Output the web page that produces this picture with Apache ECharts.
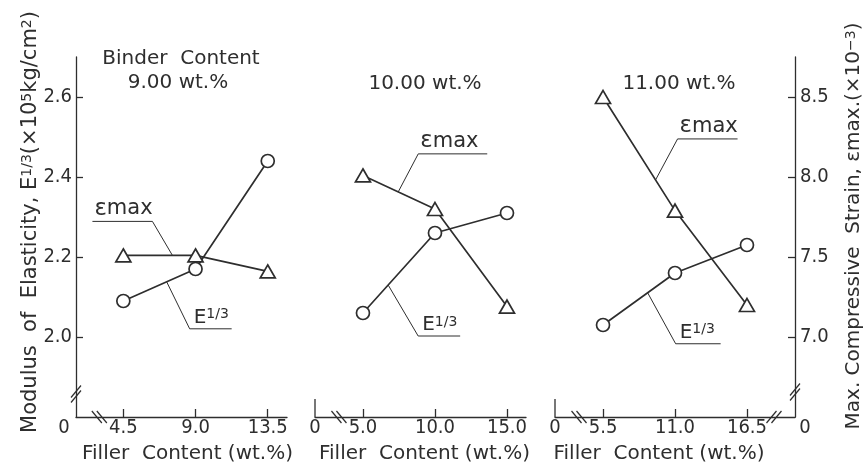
<!DOCTYPE html>
<html><head><meta charset="utf-8">
<script src="https://cdn.jsdelivr.net/npm/echarts@6/dist/echarts.min.js"></script>
<style>html,body{margin:0;padding:0;background:#fff}#c{width:864px;height:469px}</style>
</head><body><div id="c"></div>
<script>
// ---- data ----
const fillerP1 = [4.5, 9.0, 13.5];
const fillerP2 = [5.0, 10.0, 15.0];
const fillerP3 = [5.5, 11.0, 16.5];
const modulusP1 = [2.09, 2.17, 2.44];
const modulusP2 = [2.06, 2.26, 2.31];
const modulusP3 = [2.03, 2.16, 2.23];
const strainP1 = [7.51, 7.51, 7.41];
const strainP2 = [8.01, 7.80, 7.19];
const strainP3 = [8.50, 7.79, 7.20];
const binderTitles = [['Binder  Content', '9.00 wt.%'], ['10.00 wt.%'], ['11.00 wt.%']];
const modulusTicks = [2.0, 2.2, 2.4, 2.6];
const strainTicks = [7.0, 7.5, 8.0, 8.5];
const xName = 'Filler  Content (wt.%)';

// ---- styling / layout ----
const FONT = 'DejaVu Sans Condensed, DejaVu Sans, sans-serif';
const FONT_T = 'DejaVu Sans, sans-serif';
const INK = '#2e2e2e';
const FS = 20;
const fillers = [fillerP1, fillerP2, fillerP3];
const moduli = [modulusP1, modulusP2, modulusP3];
const strains = [strainP1, strainP2, strainP3];
const xRanges = [[1.55, 14.7], [1.67, 16.32], [1.83, 20.17]];
const grids = [
  {left: 76, top: 57, width: 211, height: 361},
  {left: 315, top: 57, width: 211, height: 361},
  {left: 555, top: 57, width: 240, height: 361}
];
const namePad = [[0, 0, 0, 12], [0, 0, 0, 8], [0, 32, 0, 0]];

const chart = echarts.init(document.getElementById('c'), null, {renderer: 'canvas'});
const near = (a, b) => Math.abs(a - b) < 1e-6;

const xAxis = fillers.map((f, i) => {
  const [mn, mx] = xRanges[i];
  const labVals = i === 2 ? [mn, ...f, mx] : [mn, ...f];
  return {
    type: 'value', gridIndex: i, min: mn, max: mx,
    axisLine: {show: true, onZero: false, lineStyle: {color: INK, width: 1.3}},
    axisTick: {show: true, inside: true, length: 8, customValues: f, lineStyle: {color: INK, width: 1.3}},
    axisLabel: {
      customValues: labVals, margin: 1, color: INK, fontSize: FS, fontFamily: FONT, showMinLabel: true, showMaxLabel: true,
      formatter: v => {
        if (near(v, mn)) return i === 0 ? '{zl|0}' : '0';
        if (near(v, mx)) return '{zr|0}';
        return v.toFixed(1);
      },
      rich: {
        zl: {padding: [0, 24, 0, 0], fontSize: FS, fontFamily: FONT, color: INK},
        zr: {padding: [0, 0, 0, 20], fontSize: FS, fontFamily: FONT, color: INK}
      }
    },
    splitLine: {show: false},
    name: xName, nameLocation: 'middle', nameGap: 27,
    nameTextStyle: {color: INK, fontSize: FS, fontFamily: FONT_T, padding: namePad[i]}
  };
});

const yAxis = [];
for (let i = 0; i < 3; i++) {
  const showMod = i === 0, showStr = i === 2;
  yAxis.push({
    type: 'value', gridIndex: i, min: 1.8, max: 2.7, position: 'left', show: showMod,
    axisLine: {show: showMod, lineStyle: {color: INK, width: 1.3}},
    axisTick: {show: true, inside: true, length: 7, customValues: modulusTicks, lineStyle: {color: INK, width: 1.3}},
    axisLabel: {customValues: modulusTicks, margin: 4, color: INK, fontSize: FS, fontFamily: FONT, formatter: v => v.toFixed(1)},
    splitLine: {show: false}
  });
  yAxis.push({
    type: 'value', gridIndex: i, min: 6.5, max: 8.75, position: 'right', show: showStr,
    axisLine: {show: showStr, lineStyle: {color: INK, width: 1.3}},
    axisTick: {show: true, inside: true, length: 7, customValues: strainTicks, lineStyle: {color: INK, width: 1.3}},
    axisLabel: {customValues: strainTicks, margin: 5, color: INK, fontSize: FS, fontFamily: FONT, formatter: v => v.toFixed(1)},
    splitLine: {show: false}
  });
}

const series = [];
for (let i = 0; i < 3; i++) {
  series.push({
    type: 'line', name: 'E1/3', xAxisIndex: i, yAxisIndex: 2 * i,
    data: fillers[i].map((x, k) => [x, moduli[i][k]]),
    symbol: 'circle', symbolSize: 13, z: 3,
    lineStyle: {color: INK, width: 1.7},
    itemStyle: {color: '#fff', borderColor: INK, borderWidth: 1.7},
    emphasis: {disabled: true}, animation: false
  });
  series.push({
    type: 'line', name: 'εmax', xAxisIndex: i, yAxisIndex: 2 * i + 1,
    data: fillers[i].map((x, k) => [x, strains[i][k]]),
    symbol: 'triangle', symbolSize: [15, 13], z: 4,
    lineStyle: {color: INK, width: 1.7},
    itemStyle: {color: '#fff', borderColor: INK, borderWidth: 1.7},
    emphasis: {disabled: true}, animation: false
  });
}

chart.setOption({backgroundColor: '#fff', animation: false, grid: grids, xAxis, yAxis, series});

// ---- annotations & decorations ----
const px = (i, x, y) => chart.convertToPixel({xAxisIndex: i, yAxisIndex: 2 * i}, [x, y]);
const pxS = (i, x, y) => chart.convertToPixel({xAxisIndex: i, yAxisIndex: 2 * i + 1}, [x, y]);
const g = [];
const line = (x1, y1, x2, y2, w) => g.push({type: 'line', shape: {x1, y1, x2, y2}, style: {stroke: INK, lineWidth: w || 1}, silent: true, z: 10});
const slashes = (cx, cy, dir) => { // dir 1: '//' , -1: '\\'
  for (const o of [-2.5, 2.5]) {
    if (dir === 1) line(cx + o - 5, cy + 6, cx + o + 5, cy - 6, 1.2);
    else line(cx + o - 5, cy - 6, cx + o + 5, cy + 6, 1.2);
  }
};
const slashesV = (cx, cy) => { for (const o of [-2.5, 2.5]) line(cx - 5, cy + o + 6, cx + 5, cy + o - 6, 1.2); };

const text = (x, y, t, extra) => g.push({type: 'text', x, y, silent: true, z: 10,
  style: Object.assign({text: t, fill: INK, fontFamily: FONT_T, fontSize: FS}, extra || {})});

// titles
const titleCenters = [181, 425, 679];
binderTitles.forEach((lines, i) => {
  const top = lines.length === 2 ? 59 : 84;
  lines.forEach((t, k) => text(titleCenters[i] - (lines.length === 2 && k === 1 ? 3 : 0), top + k * 24, t, {align: 'center', verticalAlign: 'middle'}));
});

// axis titles
const AF = 21;
g.push({type: 'text', x: 31, y: 222, rotation: Math.PI / 2, silent: true, z: 10, style: {
  text: '{n|Modulus  of  Elasticity, E}{s|1/3}{n|(×10}{s|5}{n|kg/cm}{s|2}{n|)}', align: 'center', verticalAlign: 'middle',
  rich: {n: {fontFamily: FONT_T, fontSize: AF, fill: INK}, s: {fontFamily: FONT_T, fontSize: 14, fill: INK, verticalAlign: 'top'}}}});
g.push({type: 'text', x: 854, y: 226, rotation: Math.PI / 2, silent: true, z: 10, style: {
  text: '{n|Max. Compressive  Strain, εmax.(×10}{s|−3}{n|)}', align: 'center', verticalAlign: 'middle',
  rich: {n: {fontFamily: FONT_T, fontSize: 20, fill: INK}, s: {fontFamily: FONT_T, fontSize: 14, fill: INK, verticalAlign: 'top'}}}});

// axis stubs and breaks
for (let i = 0; i < 3; i++) {
  const [mn, mx] = xRanges[i];
  const o = px(i, mn, 1.8);
  const first = px(i, fillers[i][0], 1.8);
  if (i > 0) line(o[0], o[1] - 18, o[0], o[1], 1.3);
  slashes(first[0] - 24, o[1], -1);
  if (i === 0) slashesV(o[0], o[1] - 23);
  if (i === 2) {
    const last = px(i, fillers[i][2], 1.8);
    const r = px(i, mx, 1.8);
    slashes(last[0] + 27, r[1], 1);
    slashesV(r[0], r[1] - 25);
  }
}

// leader annotations: anchor t between points 0-1, knee offset, underline length
const lerp = (a, b, t) => [a[0] + (b[0] - a[0]) * t, a[1] + (b[1] - a[1]) * t];
const epsRich = {e: {fontFamily: FONT_T, fontSize: 23, fill: INK}, m: {fontFamily: FONT_T, fontSize: 21, fill: INK}};
const eRich = {e: {fontFamily: FONT_T, fontSize: FS, fill: INK}, s: {fontFamily: FONT_T, fontSize: 14, fill: INK, verticalAlign: 'top'}};
const notes = [
  [{t: 0.68, dx: -20, dy: -34, len: -60}, {t: 0.6, dx: 23, dy: 47, len: 42}],
  [{t: 0.49, dx: 20, dy: -38, len: 69}, {t: 0.35, dx: 30, dy: 51, len: 42}],
  [{t: 0.73, dx: 22, dy: -41, len: 60}, {t: 0.62, dx: 28, dy: 51, len: 45}]
];
for (let i = 0; i < 3; i++) {
  const f = fillers[i];
  const ta = pxS(i, f[0], strains[i][0]), tb = pxS(i, f[1], strains[i][1]);
  const ca = px(i, f[0], moduli[i][0]), cb = px(i, f[1], moduli[i][1]);
  const [ne, nE] = notes[i];
  let a = lerp(ta, tb, ne.t);
  let kx = a[0] + ne.dx, ky = a[1] + ne.dy;
  line(a[0], a[1], kx, ky, 1);
  line(kx, ky, kx + ne.len, ky, 1);
  const lx = Math.min(kx, kx + ne.len) + 2;
  g.push({type: 'text', x: lx, y: ky - 1, silent: true, z: 10, style: {text: '{e|ε}{m|max}', align: 'left', verticalAlign: 'bottom', rich: epsRich}});
  a = lerp(ca, cb, nE.t);
  kx = a[0] + nE.dx; ky = a[1] + nE.dy;
  line(a[0], a[1], kx, ky, 1);
  line(kx, ky, kx + nE.len, ky, 1);
  g.push({type: 'text', x: kx + 4, y: ky - 1, silent: true, z: 10, style: {text: '{e|E}{s|1/3}', align: 'left', verticalAlign: 'bottom', rich: eRich}});
}
chart.setOption({graphic: g});
</script></body></html>
